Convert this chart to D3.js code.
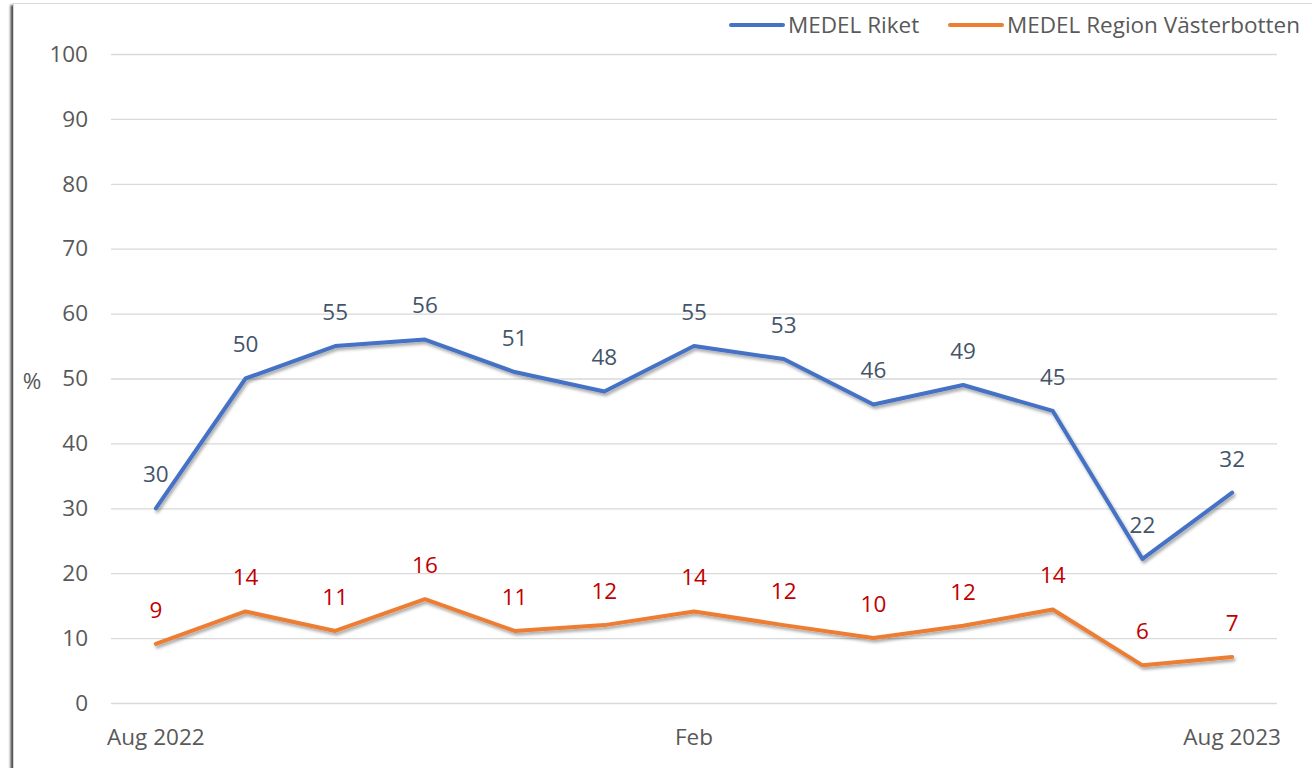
<!DOCTYPE html>
<html><head><meta charset="utf-8">
<script src="https://cdn.jsdelivr.net/npm/d3@7"></script>
<style>
html,body{margin:0;padding:0;background:#fff;overflow:hidden}
svg{display:block}
text{font-family:"Open Sans","Noto Sans",sans-serif}
</style></head>
<body>
<svg id="c" width="1312" height="768"></svg>
<script>
const categories = ["Aug 2022","Sep","Okt","Nov","Dec","Jan","Feb","Mar","Apr","Maj","Jun","Jul","Aug 2023"];
const tickLabels = ["Aug 2022","","","","","","Feb","","","","","","Aug 2023"];
const riket = [30, 50, 55, 56, 51, 48, 55, 53, 46, 49, 45, 22.2, 32.4];
const vasterbotten = [9.1, 14.1, 11.1, 16, 11.1, 12, 14.1, 12, 10, 11.9, 14.4, 5.8, 7.1];
const riketLabels = ["30","50","55","56","51","48","55","53","46","49","45","22","32"];
const vbLabels = ["9","14","11","16","11","12","14","12","10","12","14","6","7"];
const yTicks = [0,10,20,30,40,50,60,70,80,90,100];
const seriesNames = ["MEDEL Riket","MEDEL Region Västerbotten"];

const FS = 22.5;
const svg = d3.select("#c");
const defs = svg.append("defs");
const f = defs.append("filter").attr("id","sh").attr("x","-10%").attr("y","-10%").attr("width","120%").attr("height","130%");
f.append("feDropShadow").attr("dx",1.5).attr("dy",2.5).attr("stdDeviation",1.5).attr("flood-color","#000").attr("flood-opacity",0.35);
const fb = defs.append("filter").attr("id","bsh").attr("x","-5%").attr("y","-5%").attr("width","110%").attr("height","110%");
fb.append("feDropShadow").attr("dx",-2.5).attr("dy",2).attr("stdDeviation",1.2).attr("flood-color","#000").attr("flood-opacity",0.7);

// chart border
svg.append("rect").attr("x",13.5).attr("y",3.5).attr("width",1320).attr("height",800)
  .attr("fill","#fff").attr("stroke","#d9d9d9").attr("stroke-width",1).attr("filter","url(#bsh)");

const x = d3.scaleBand().domain(categories).range([111,1277]).padding(0);
const y = d3.scaleLinear().domain([0,100]).range([703,54]);
const cx = d => x(d) + x.bandwidth()/2;

// grid
const yAxis = d3.axisLeft(y).tickValues(yTicks).tickSize(-(1277-111)).tickPadding(23);
const gy = svg.append("g").attr("transform","translate(111,0)").call(yAxis);
gy.select(".domain").remove();
gy.selectAll(".tick line").attr("stroke","#d9d9d9").attr("stroke-width",1.3);
gy.selectAll(".tick text").attr("fill","#595959").attr("font-size",FS);

const xAxis = d3.axisBottom(x).tickFormat((d,i)=>tickLabels[i]).tickSize(0).tickPadding(26);
const gx = svg.append("g").attr("transform","translate(0,703)").call(xAxis);
gx.select(".domain").remove();
gx.selectAll(".tick text").attr("fill","#595959").attr("font-size",FS);

svg.append("text").attr("x",32).attr("y",381).attr("dy","0.35em").attr("text-anchor","middle")
  .attr("fill","#595959").attr("font-size",FS).text("%");

const line = d3.line().x((d,i)=>cx(categories[i])).y(d=>y(d));
svg.append("path").datum(vasterbotten).attr("d",line).attr("fill","none").attr("stroke","#ED7D31")
  .attr("stroke-width",4).attr("stroke-linejoin","round").attr("stroke-linecap","round").attr("filter","url(#sh)");
svg.append("path").datum(riket).attr("d",line).attr("fill","none").attr("stroke","#4472C4")
  .attr("stroke-width",4).attr("stroke-linejoin","round").attr("stroke-linecap","round").attr("filter","url(#sh)");

svg.append("g").selectAll("text").data(riket).join("text")
  .attr("x",(d,i)=>cx(categories[i])).attr("y",d=>y(d)-34).attr("dy","0.35em")
  .attr("text-anchor","middle").attr("fill","#44546A").attr("font-size",FS).text((d,i)=>riketLabels[i]);
svg.append("g").selectAll("text").data(vasterbotten).join("text")
  .attr("x",(d,i)=>cx(categories[i])).attr("y",d=>y(d)-34).attr("dy","0.35em")
  .attr("text-anchor","middle").attr("fill","#C00000").attr("font-size",FS).text((d,i)=>vbLabels[i]);

// legend
const legend = [{name:seriesNames[0],color:"#4472C4",x:731},{name:seriesNames[1],color:"#ED7D31",x:950}];
const lg = svg.append("g").selectAll("g").data(legend).join("g").attr("transform",d=>`translate(${d.x},25)`);
lg.append("line").attr("x1",0).attr("x2",52).attr("stroke",d=>d.color).attr("stroke-width",4).attr("stroke-linecap","round");
lg.append("text").attr("x",57).attr("dy","0.35em").attr("fill","#595959").attr("font-size",FS).text(d=>d.name);
</script>
</body></html>
